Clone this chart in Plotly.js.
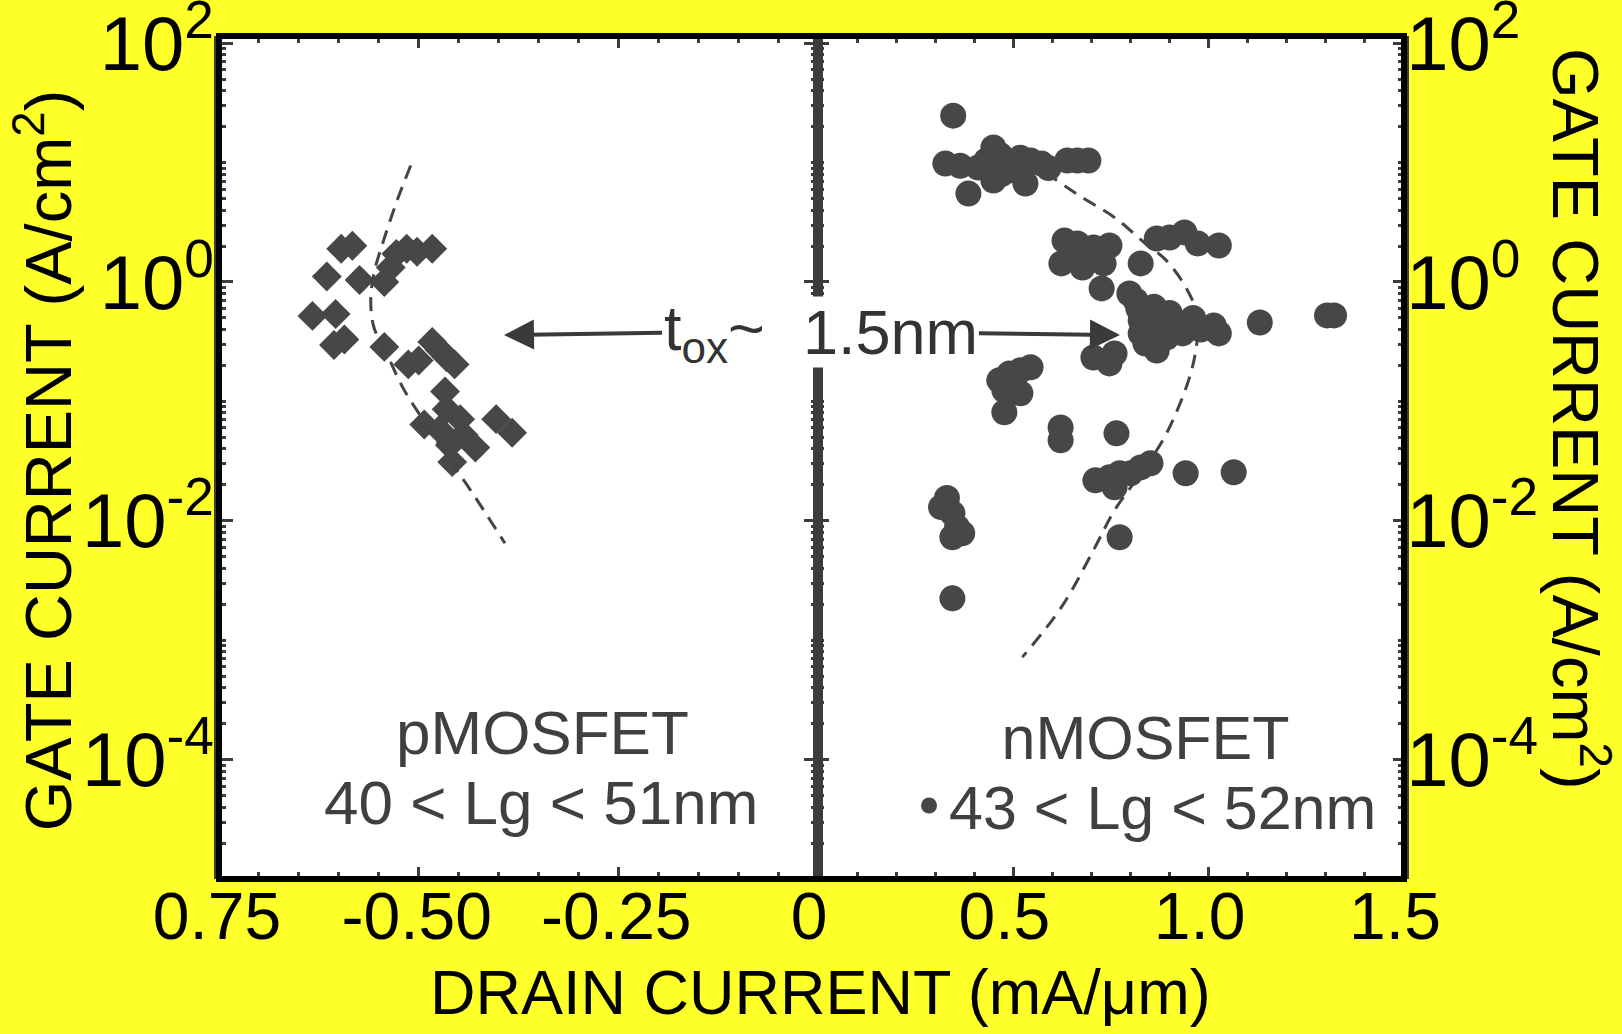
<!DOCTYPE html>
<html><head><meta charset="utf-8">
<script src="https://cdn.plot.ly/plotly-3.0.1.min.js"></script>
<style>html,body{margin:0;padding:0;background:#ffff2a;} #chart{width:1622px;height:1034px;}</style>
</head><body><div id="chart"></div>
<script>
// ---- data ----
const pmosX = [-0.597,-0.583,-0.615,-0.574,-0.543,-0.535,-0.528,-0.515,-0.502,-0.483,
  -0.633,-0.604,-0.606,-0.593,-0.543,-0.513,-0.500,-0.483,-0.474,-0.465,-0.455,
  -0.467,-0.465,-0.493,-0.474,-0.448,-0.444,-0.461,-0.429,-0.403,-0.383,-0.458];
const pmosY = [1.90,2.01,1.11,1.04,1.00,1.32,1.72,1.90,1.79,1.90,
  0.52,0.54,0.297,0.33,0.286,0.204,0.22,0.315,0.27,0.234,0.204,
  0.121,0.086,0.064,0.058,0.071,0.0525,0.043,0.041,0.071,0.0546,0.031];

const nmosX = [0.346,0.326,0.431,0.449,0.485,0.518,0.544,0.572,0.449,0.531,0.503,0.410,0.638,0.664,0.692,0.385,
  0.631,0.664,0.705,0.746,0.623,0.677,0.731,0.651,0.726,0.826,0.867,0.900,0.938,0.972,1.026,
  0.797,0.813,0.826,0.851,0.879,0.905,0.933,0.838,0.867,0.826,0.892,0.954,1.013,1.026,1.131,1.303,1.321,
  0.705,0.746,0.759,0.464,0.490,0.518,0.544,0.477,0.518,0.477,0.621,0.621,0.764,
  0.710,0.746,0.772,0.800,0.826,0.851,0.759,0.941,1.064,
  0.315,0.344,0.356,0.369,0.344,0.344,0.772,0.330,
  0.467,0.364,0.590,0.470,0.820,0.860,0.900,0.840,0.880,0.930,0.960,0.980];
const nmosY = [24.7,9.8,10.4,13.4,9.8,11.0,10.4,9.8,7.06,6.67,8.57,9.08,10.4,10.4,10.4,5.5,
  2.22,2.10,1.94,2.02,1.43,1.32,1.43,1.73,0.883,1.43,2.31,2.36,2.60,2.10,2.02,
  0.80,0.70,0.477,0.545,0.416,0.477,0.371,0.305,0.267,0.371,0.343,0.432,0.432,0.371,0.458,0.525,0.525,
  0.233,0.208,0.252,0.150,0.171,0.182,0.193,0.124,0.117,0.081,0.0605,0.0472,0.054,
  0.0218,0.0231,0.0250,0.0250,0.0280,0.0303,0.0191,0.0250,0.0255,
  0.0130,0.01156,0.00883,0.00786,0.00728,0.00224,0.00728,0.0155,
  11.5,9.4,9.0,8.0,0.60,0.62,0.55,0.42,0.48,0.45,0.50,0.40];

const pFitX = [-0.510,-0.527,-0.544,-0.556,-0.560,-0.556,-0.540,-0.520,-0.494,-0.461,-0.435,-0.392];
const pFitY = [9.44,4.81,2.22,1.18,0.70,0.416,0.252,0.131,0.0693,0.0321,0.0180,0.00649];
const nFitX = [0.582,0.677,0.759,0.838,0.892,0.946,0.972,0.967,0.946,0.892,0.838,0.759,0.705,0.623,0.523];
const nFitY = [8.24,5.09,3.47,2.10,1.51,0.849,0.505,0.267,0.1416,0.0539,0.0281,0.01225,0.00566,0.00189,0.000721];

const xLeftTicks = [-0.75,-0.5,-0.25];
const xLeftText  = ['0.75','-0.50','-0.25'];
const xRightTicks = [0,0.5,1.0,1.5];
const xRightText  = ['0','0.5','1.0','1.5'];
const yLabelVals = [1e-4,1e-2,1e0,1e2];
const yLabelText = ['10<sup>-4</sup>','10<sup>-2</sup>','10<sup>0</sup>','10<sup>2</sup>'];

const yTitle = 'GATE CURRENT (A/cm<sup>2</sup>)';
const xTitle = 'DRAIN CURRENT (mA/\u03bcm)';

// minor log ticks: unlabelled decades and 2..9 in each decade
const yMinor = [];
for (let e = -5; e <= 1; e++) {
  if (e % 2 !== 0) yMinor.push(Math.pow(10, e));
  for (let k = 2; k <= 9; k++) yMinor.push(k * Math.pow(10, e));
}

const FONT = '"Liberation Sans", Arial, Helvetica, sans-serif';
const TICKC = '#3c3c3c';
const MARK = '#474747';
const GRAYTXT = '#404040';

const traces = [
  {x: pmosX, y: pmosY, xaxis:'x', yaxis:'y', type:'scatter', mode:'markers', name:'pMOSFET',
   showlegend:false, marker:{symbol:'diamond', size:23, color:MARK}},
  {x: pFitX, y: pFitY, xaxis:'x', yaxis:'y', type:'scatter', mode:'lines', showlegend:false,
   line:{color:'#444444', width:3, dash:'14px,9px', shape:'spline'}},
  {x: nFitX, y: nFitY, xaxis:'x2', yaxis:'y2', type:'scatter', mode:'lines', showlegend:false,
   line:{color:'#444444', width:3, dash:'14px,9px', shape:'spline'}},
  {x: nmosX, y: nmosY, xaxis:'x2', yaxis:'y2', type:'scatter', mode:'markers',
   name:'43 &lt; Lg &lt; 52nm', showlegend:true, marker:{symbol:'circle', size:26, color:MARK}}
];

const split = 0.5055;
const xCommon = {ticks:'inside', ticklen:12, tickwidth:3, tickcolor:TICKC, mirror:'ticks',
  showline:false, showgrid:false, zeroline:false, tickmode:'array',
  tickfont:{size:66, color:'#000', family:FONT}, ticklabelstandoff:-7, ticklabeloverflow:'allow'};
const yCommon = {type:'log', range:[-5, 2.06], tickmode:'array', tickvals:yLabelVals, ticktext:yLabelText,
  ticks:'inside', tickwidth:3, tickcolor:TICKC, showgrid:false, zeroline:false, ticklabeloverflow:'allow',
  tickfont:{size:76, color:'#000', family:FONT}};

const layout = {
  width:1622, height:1034,
  margin:{l:219, r:218, t:36, b:155, pad:0},
  paper_bgcolor:'#ffff2a', plot_bgcolor:'#ffffff',
  font:{family:FONT, color:'#000'},
  showlegend:true,
  legend:{x:0.5823, xanchor:'left', y:0.032, yanchor:'bottom', bgcolor:'rgba(0,0,0,0)',
    font:{size:61, color:GRAYTXT, family:FONT}, itemsizing:'trace',
    title:{text:'nMOSFET', side:'top center', font:{size:61, color:GRAYTXT, family:FONT}}},
  xaxis: Object.assign({}, xCommon, {domain:[0, split], range:[-0.75, 0], anchor:'y',
    tickvals:xLeftTicks, ticktext:xLeftText, ticklabelshift:-2,
    minor:{dtick:0.05, tick0:0, ticks:'inside', ticklen:7, tickwidth:3, tickcolor:TICKC, showgrid:false}}),
  xaxis2: Object.assign({}, xCommon, {domain:[split, 1], range:[0, 1.5], anchor:'y2',
    tickvals:xRightTicks, ticktext:xRightText, ticklabelshift:-9,
    minor:{dtick:0.1, tick0:0, ticks:'inside', ticklen:7, tickwidth:3, tickcolor:TICKC, showgrid:false}}),
  yaxis: Object.assign({}, yCommon, {anchor:'x', side:'left', ticklen:14, mirror:'ticks',
    showline:true, linecolor:TICKC, linewidth:5, ticklabelstandoff:-15,
    minor:{tickmode:'array', tickvals:yMinor, ticks:'inside', ticklen:7, tickwidth:3, tickcolor:TICKC, showgrid:false}}),
  yaxis2: Object.assign({}, yCommon, {anchor:'x2', side:'right', matches:'y', ticklen:11, mirror:'ticks',
    showline:true, linecolor:TICKC, linewidth:5, ticklabelstandoff:-18,
    minor:{tickmode:'array', tickvals:yMinor, ticks:'inside', ticklen:6, tickwidth:3, tickcolor:TICKC, showgrid:false}}),
  shapes:[{type:'rect', xref:'paper', yref:'paper', x0:0, x1:1, y0:0, y1:1, layer:'above',
    line:{color:'#000', width:6}}],
  annotations:[
    {text:xTitle, xref:'paper', yref:'paper', x:0.5072, y:-0.134, xanchor:'center', yanchor:'middle',
     showarrow:false, font:{size:63, color:'#000', family:FONT}},
    {text:yTitle, xref:'paper', yref:'paper', x:-0.1475, y:0.497, xanchor:'center', yanchor:'middle',
     textangle:-90, showarrow:false, font:{size:65, color:'#000', family:FONT}},
    {text:yTitle, xref:'paper', yref:'paper', x:1.1485, y:0.5457, xanchor:'center', yanchor:'middle',
     textangle:90, showarrow:false, font:{size:65, color:'#000', family:FONT}},
    {text:'pMOSFET', xref:'paper', yref:'paper', x:0.2734, y:0.1732, xanchor:'center', yanchor:'middle',
     showarrow:false, font:{size:62, color:GRAYTXT, family:FONT}},
    {text:'40 &lt; Lg &lt; 51nm', xref:'paper', yref:'paper', x:0.2717, y:0.0913, xanchor:'center', yanchor:'middle',
     showarrow:false, font:{size:62, color:GRAYTXT, family:FONT}},
    {text:'t<sub>ox</sub>~', xref:'paper', yref:'paper', x:0.2405, y:0.6453, ax:211, ay:-3, showarrow:true,
     arrowhead:2, arrowsize:1.5, arrowwidth:4, arrowcolor:'#3a3a3a', standoff:0, startstandoff:2,
     bgcolor:'#ffffff', borderpad:0, font:{size:63, color:'#333333', family:FONT}},
    {text:'1.5nm', xref:'paper', yref:'paper', x:0.7603, y:0.6453, ax:-229, ay:-3, showarrow:true,
     arrowhead:2, arrowsize:1.5, arrowwidth:4, arrowcolor:'#3a3a3a', standoff:0, startstandoff:0,
     bgcolor:'#ffffff', borderpad:0, font:{size:63, color:'#333333', family:FONT}}
  ]
};

Plotly.newPlot('chart', traces, layout, {displayModeBar:false, staticPlot:true});
</script></body></html>
